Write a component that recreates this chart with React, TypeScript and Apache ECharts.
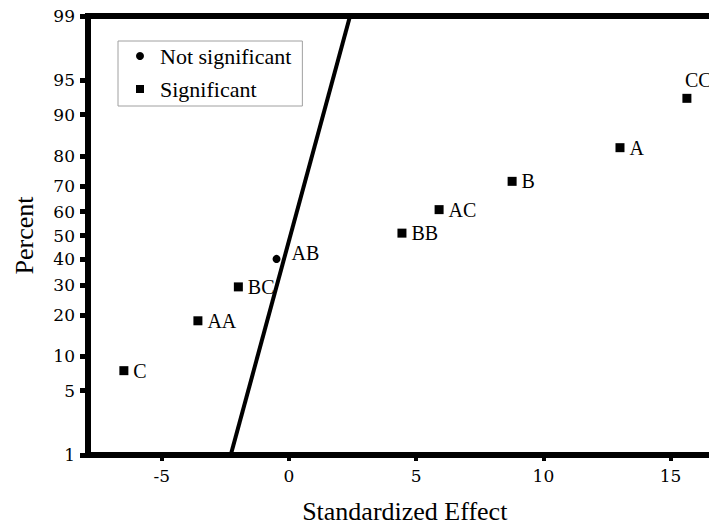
import React, { useEffect, useRef } from "react";
import * as echarts from "echarts";

// Probability-scale tick marks (percent) and effect-axis ticks
const percentTicks = [1, 5, 10, 20, 30, 40, 50, 60, 70, 80, 90, 95, 99];
const effectTicks = [-5, 0, 5, 10, 15];

// Significant effects
const significantNames = ["C", "AA", "BC", "BB", "AC", "B", "A", "CC"];
const significantEffects = [-6.49, -3.58, -1.99, 4.44, 5.9, 8.77, 13.01, 15.64];
const significantPercents = [7.6, 18.3, 29.3, 51, 60.8, 71.7, 82.4, 92.7];

// Effects that are not significant
const notSignificantNames = ["AB"];
const notSignificantEffects = [-0.49];
const notSignificantPercents = [40.2];

// Reference normal line end points
const refLineEffects = [-2.29, 2.4];
const refLinePercents = [1, 99];

// Inverse standard normal CDF (Acklam's rational approximation)
function probit(p: number): number {
  const a = [-3.969683028665376e1, 2.209460984245205e2, -2.759285104469687e2, 1.38357751867269e2, -3.066479806614716e1, 2.506628277459239];
  const b = [-5.447609879822406e1, 1.615858368580409e2, -1.556989798598866e2, 6.680131188771972e1, -1.328068155288572e1];
  const c = [-7.784894002430293e-3, -3.223964580411365e-1, -2.400758277161838, -2.549732539343734, 4.374664141464968, 2.938163982698783];
  const d = [7.784695709041462e-3, 3.224671290700398e-1, 2.445134137142996, 3.754408661907416];
  const pl = 0.02425;
  const ph = 1 - pl;
  if (p < pl) {
    const q = Math.sqrt(-2 * Math.log(p));
    return (((((c[0] * q + c[1]) * q + c[2]) * q + c[3]) * q + c[4]) * q + c[5]) /
      ((((d[0] * q + d[1]) * q + d[2]) * q + d[3]) * q + 1);
  }
  if (p <= ph) {
    const q = p - 0.5;
    const r = q * q;
    return ((((((a[0] * r + a[1]) * r + a[2]) * r + a[3]) * r + a[4]) * r + a[5]) * q) /
      (((((b[0] * r + b[1]) * r + b[2]) * r + b[3]) * r + b[4]) * r + 1);
  }
  const q = Math.sqrt(-2 * Math.log(1 - p));
  return -(((((c[0] * q + c[1]) * q + c[2]) * q + c[3]) * q + c[4]) * q + c[5]) /
    ((((d[0] * q + d[1]) * q + d[2]) * q + d[3]) * q + 1);
}

const z = (pct: number) => probit(pct / 100);

const serif = "Liberation Serif";
const tickFont = "DejaVu Serif";

export default function App() {
  const ref = useRef<HTMLDivElement>(null);

  useEffect(() => {
    if (!ref.current) return;
    const chart = echarts.init(ref.current, undefined, { renderer: "svg" });

    const tickZ = percentTicks.map(z);
    const pctLabel = (v: number) => {
      let best = 0;
      for (let i = 1; i < tickZ.length; i++) {
        if (Math.abs(tickZ[i] - v) < Math.abs(tickZ[best] - v)) best = i;
      }
      return String(percentTicks[best]);
    };

    const sigData = significantNames.map((name, i) => {
      const item: any = { name, value: [significantEffects[i], z(significantPercents[i])] };
      if (name === "CC") {
        item.label = { position: "top", align: "left", offset: [-2, 0], distance: 4 };
      }
      return item;
    });
    const nsData = notSignificantNames.map((name, i) => ({
      name,
      value: [notSignificantEffects[i], z(notSignificantPercents[i])],
    }));
    const lineData = refLineEffects.map((x, i) => [x, z(refLinePercents[i])]);

    const pointLabel = {
      show: true,
      formatter: "{b}",
      position: "right",
      distance: 5,
      color: "#000",
      fontFamily: serif,
      fontSize: 20,
    };

    chart.setOption({
      animation: false,
      backgroundColor: "#fff",
      grid: {
        left: 88,
        top: 16,
        right: 38.5,
        bottom: 71,
        show: true,
        borderColor: "#000",
        borderWidth: 6,
        backgroundColor: "transparent",
      },
      legend: {
        orient: "vertical",
        left: 118,
        top: 41,
        data: ["Not significant", "Significant"],
        itemWidth: 8,
        itemHeight: 8,
        itemGap: 11,
        padding: [4, 11, 6, 18],
        borderColor: "#a0a0a0",
        borderWidth: 1,
        backgroundColor: "#fff",
        itemStyle: { opacity: 1 },
        textStyle: { fontFamily: serif, fontSize: 22, color: "#000", padding: [0, 0, 0, 11] },
      },
      xAxis: {
        type: "value",
        min: -7.9,
        max: 17,
        axisLine: { show: false, onZero: false },
        splitLine: { show: false },
        axisTick: {
          show: true,
          customValues: effectTicks,
          length: 6,
          lineStyle: { color: "#000", width: 4 },
        },
        axisLabel: {
          customValues: effectTicks,
          formatter: (v: number) => String(v),
          color: "#000",
          fontFamily: tickFont,
          fontSize: 17,
          margin: 12,
        },
        name: "Standardized Effect",
        nameLocation: "middle",
        nameGap: 43,
        nameTextStyle: { fontFamily: serif, fontSize: 26, color: "#000" },
      },
      yAxis: {
        type: "value",
        min: z(1),
        max: z(99),
        axisLine: { show: false, onZero: false },
        splitLine: { show: false },
        axisTick: {
          show: true,
          customValues: tickZ,
          length: 8,
          lineStyle: { color: "#000", width: 5 },
        },
        axisLabel: {
          customValues: tickZ,
          formatter: (v: number) => pctLabel(v),
          color: "#000",
          fontFamily: tickFont,
          fontSize: 17,
          margin: 13,
        },
        name: "Percent",
        nameLocation: "middle",
        nameGap: 51,
        nameTextStyle: { fontFamily: serif, fontSize: 26, color: "#000" },
      },
      series: [
        {
          type: "line",
          data: lineData,
          symbol: "none",
          silent: true,
          z: 1,
          lineStyle: { color: "#000", width: 4 },
        },
        {
          name: "Not significant",
          type: "scatter",
          symbol: "circle",
          symbolSize: 8,
          itemStyle: { color: "#000", opacity: 1 },
          data: nsData,
          z: 3,
          label: { ...pointLabel, distance: 11, offset: [0, -6] },
        },
        {
          name: "Significant",
          type: "scatter",
          symbol: "rect",
          symbolSize: 9,
          itemStyle: { color: "#000", opacity: 1 },
          data: sigData,
          z: 3,
          label: pointLabel,
        },
      ],
    });

    return () => chart.dispose();
  }, []);

  return (
    <div
      style={{
        position: "fixed",
        left: 0,
        top: 0,
        width: 709,
        height: 529,
        overflow: "hidden",
        background: "#fff",
      }}
    >
      <div ref={ref} style={{ width: 760, height: 529 }} />
    </div>
  );
}
